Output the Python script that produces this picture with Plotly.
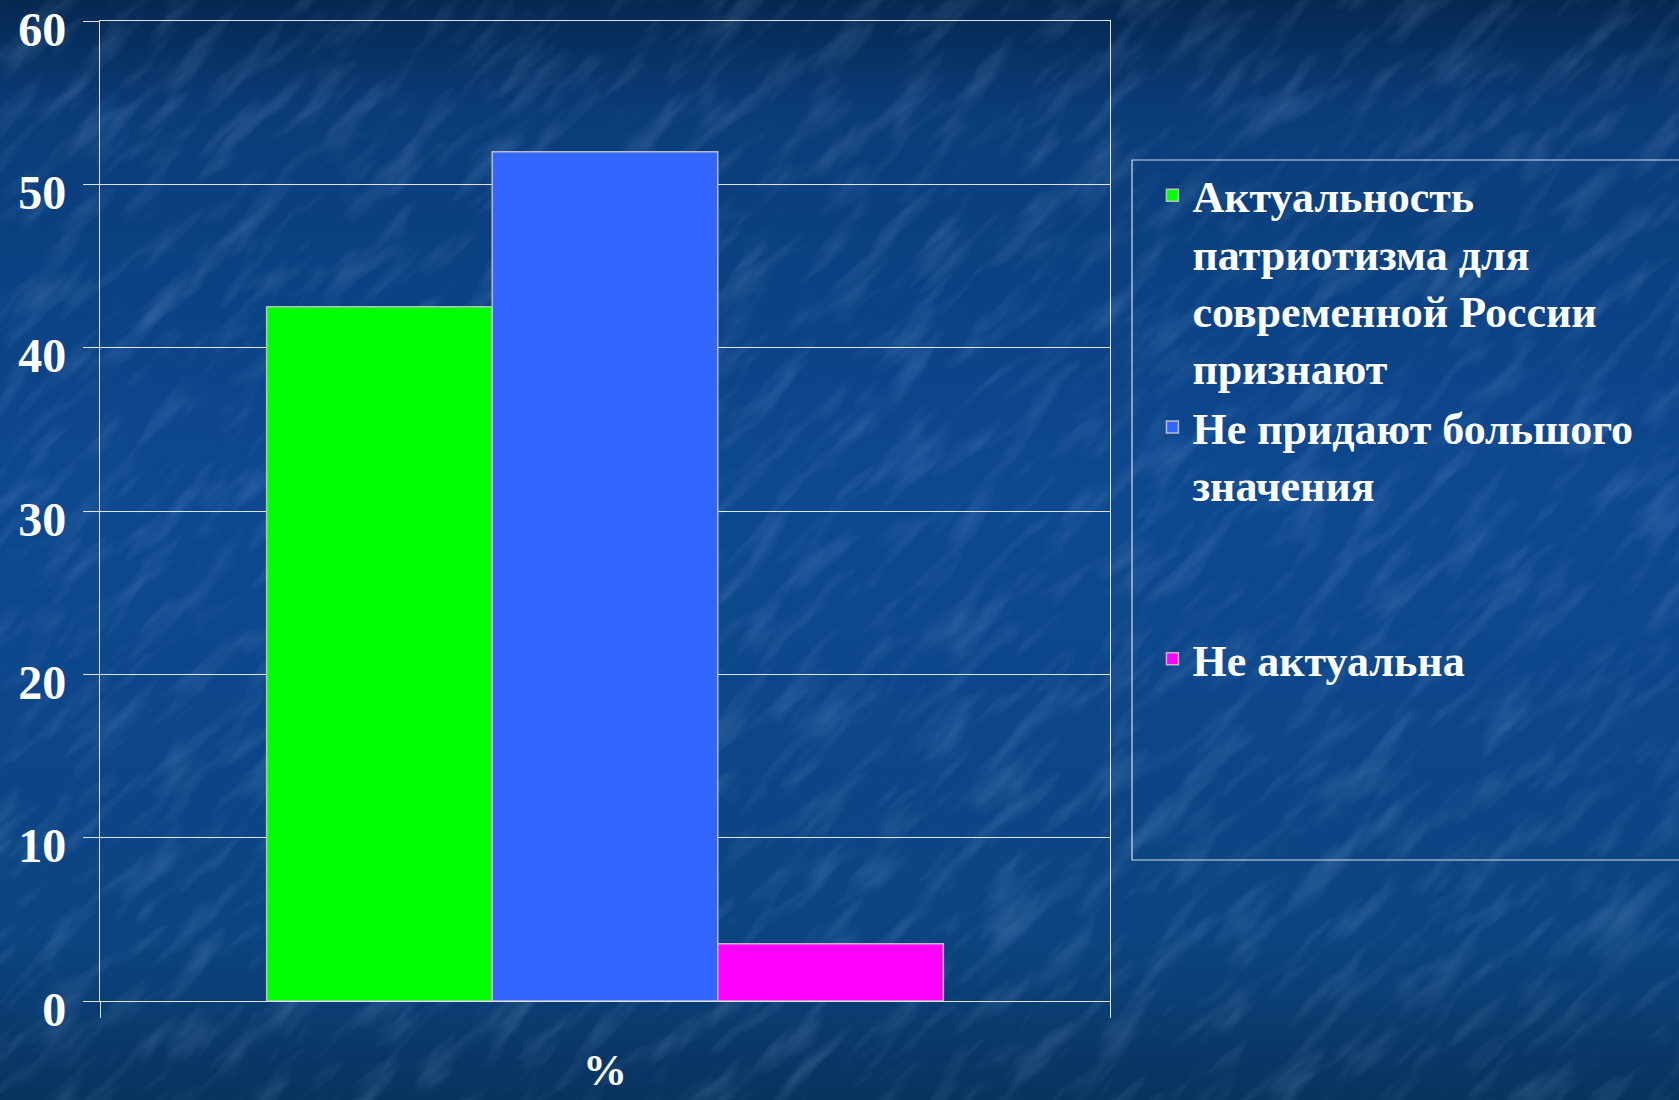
import base64
import plotly.graph_objects as go

categories = ["%"]
series_names = [
    "Актуальность<br>патриотизма для<br>современной России<br>признают",
    "Не придают большого<br>значения<br> <br> ",
    "Не актуальна",
]
series_values = [42.5, 52, 3.5]
series_colors = ["#00ff00", "#3366ff", "#ff00ff"]
y_ticks = [0, 10, 20, 30, 40, 50, 60]

FONT = "Liberation Serif"

svg = """<svg xmlns='http://www.w3.org/2000/svg' width='1679' height='1100'>
<defs>
<linearGradient id='g' x1='0' y1='0' x2='0' y2='1'>
<stop offset='0' stop-color='#052850'/>
<stop offset='0.10' stop-color='#0a3c79'/>
<stop offset='0.45' stop-color='#0d4890'/>
<stop offset='0.85' stop-color='#0c4482'/>
<stop offset='1' stop-color='#07335e'/>
</linearGradient>
<filter id='t' x='0' y='0' width='100%' height='100%'>
<feTurbulence type='fractalNoise' baseFrequency='0.012 0.045' numOctaves='3' seed='7'/>
<feColorMatrix type='matrix' values='0 0 0 0 0.40  0 0 0 0 0.60  0 0 0 0 0.92  2.0 0 0 0 -0.95'/>
</filter>
</defs>
<rect width='100%' height='100%' fill='url(#g)'/>
<g transform='rotate(-45 840 550)'><rect x='-700' y='-700' width='3100' height='2500' filter='url(#t)' opacity='0.22'/></g>
</svg>"""
bg_uri = "data:image/svg+xml;base64," + base64.b64encode(svg.encode("utf-8")).decode("ascii")

fig = go.Figure()
for name, val, col in zip(series_names, series_values, series_colors):
    fig.add_trace(go.Bar(
        x=categories, y=[val], name=name,
        marker=dict(color=col, line=dict(color="rgba(200,200,200,0.9)", width=1.5)),
    ))

fig.update_layout(
    width=1679, height=1100,
    margin=dict(l=100, r=569, t=21, b=99, autoexpand=False),
    paper_bgcolor="#0b3f7c",
    plot_bgcolor="rgba(0,0,0,0)",
    barmode="group",
    bargap=0.33, bargroupgap=0,
    font=dict(family=FONT, color="white"),
    showlegend=True,
    legend=dict(
        x=1.042, y=0.858, xanchor="left", yanchor="top",
        font=dict(family=FONT, size=44, color="white", weight="bold"),
        bgcolor="rgba(0,0,0,0)", borderwidth=0,
        valign="top", tracegroupgap=4,
    ),
    images=[dict(
        source=bg_uri, xref="paper", yref="paper",
        x=-100 / 1010, y=1001 / 980, sizex=1679 / 1010, sizey=1100 / 980,
        xanchor="left", yanchor="top", sizing="stretch", layer="below",
    )],
    shapes=[dict(
        type="rect", xref="paper", yref="paper",
        x0=(1132 - 100) / 1010, x1=(1700 - 100) / 1010,
        y0=(1001 - 860) / 980, y1=(1001 - 160) / 980,
        line=dict(color="rgba(235,235,235,0.9)", width=1.2),
        fillcolor="rgba(0,0,0,0)",
    )],
)

fig.update_xaxes(
    type="category", automargin=False,
    showline=True, mirror=True, linecolor="rgba(235,235,235,0.95)", linewidth=1.2,
    showgrid=False,
    ticks="outside", tickson="boundaries", ticklen=16, tickcolor="rgba(235,235,235,0.95)",
    tickfont=dict(family=FONT, size=44, color="white", weight="bold"),
    ticklabelstandoff=30,
)
fig.update_yaxes(
    range=[0, 60], tickvals=y_ticks, automargin=False,
    showline=True, mirror=True, linecolor="rgba(235,235,235,0.95)", linewidth=1.2,
    showgrid=True, gridcolor="rgba(235,235,235,0.95)", gridwidth=1.2,
    zeroline=False,
    ticks="outside", ticklen=16, tickcolor="rgba(235,235,235,0.95)",
    tickfont=dict(family=FONT, size=48, color="white", weight="bold"),
    ticklabelstandoff=7, ticklabelshift=8, ticklabeloverflow="allow",
)

fig.write_html(
    "out.html",
    config={"displayModeBar": False},
    post_script="document.body.style.margin='0';document.body.style.overflow='hidden';",
)
